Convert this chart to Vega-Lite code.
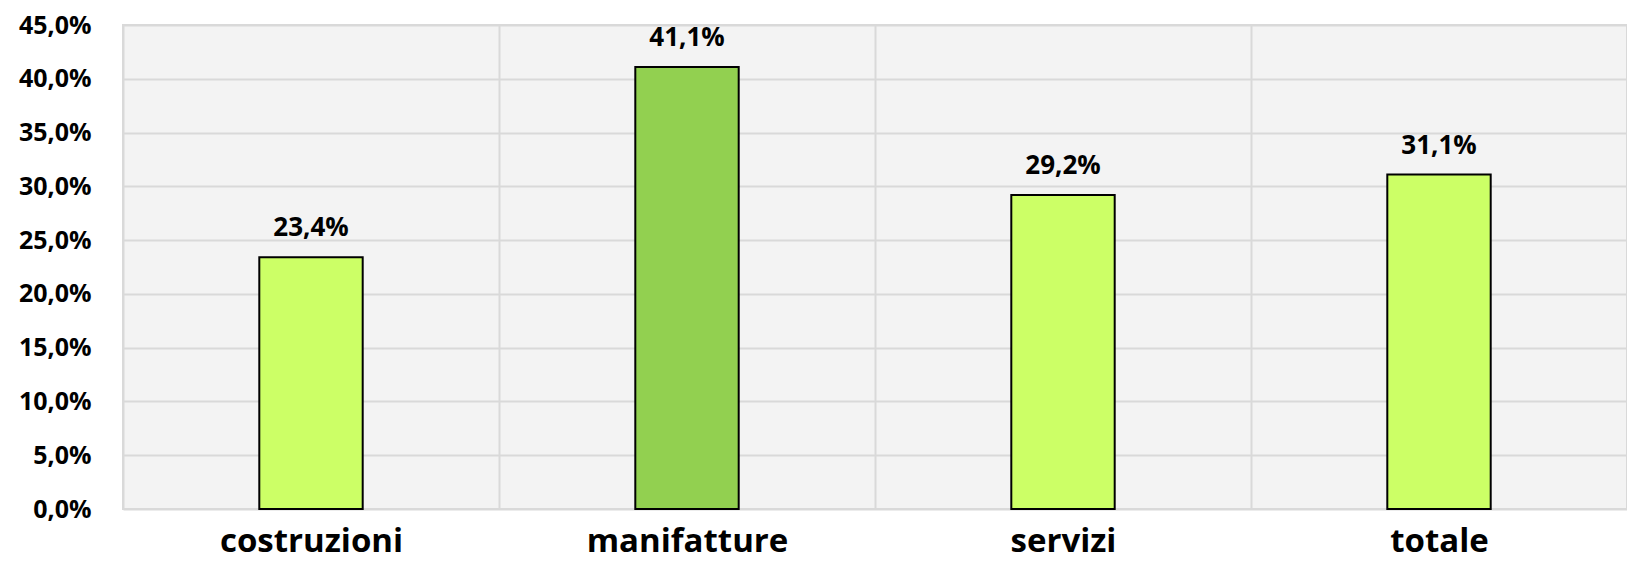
{
  "$schema": "https://vega.github.io/schema/vega-lite/v6.json",
  "autosize": "none",
  "width": 1504,
  "height": 484,
  "padding": {"left": 123, "top": 25, "right": 0, "bottom": 74},
  "background": "white",
  "config": {
    "locale": {"number": {"decimal": ",", "thousands": ".", "grouping": [3], "currency": ["€", ""]}},
    "view": {"fill": "#f3f3f3", "stroke": "#d9d9d9", "strokeWidth": 2},
    "font": "Open Sans"
  },
  "data": {
    "values": [
      {"settore": "costruzioni", "valore": 0.234, "gruppo": "a"},
      {"settore": "manifatture", "valore": 0.411, "gruppo": "b"},
      {"settore": "servizi", "valore": 0.292, "gruppo": "a"},
      {"settore": "totale", "valore": 0.311, "gruppo": "a"}
    ]
  },
  "encoding": {
    "x": {
      "field": "settore",
      "type": "nominal",
      "sort": null,
      "scale": {"paddingInner": 0, "paddingOuter": 0},
      "axis": {
        "title": null,
        "labelAngle": 0,
        "labelFont": "Open Sans",
        "labelFontWeight": "bold",
        "labelFontSize": 33,
        "labelLimit": 0,
        "labelColor": "#000000",
        "labelPadding": 16,
        "ticks": false,
        "domain": false,
        "grid": true,
        "tickBand": "extent",
        "gridColor": "#d9d9d9",
        "gridWidth": 2
      }
    },
    "y": {
      "field": "valore",
      "type": "quantitative",
      "scale": {"domain": [0, 0.45], "nice": false},
      "axis": {
        "title": null,
        "format": ".1%",
        "values": [0, 0.05, 0.1, 0.15, 0.2, 0.25, 0.3, 0.35, 0.4, 0.45],
        "labelFont": "Open Sans",
        "labelFontWeight": "bold",
        "labelFontSize": 25,
        "labelLimit": 0,
        "labelColor": "#000000",
        "labelPadding": 32,
        "ticks": false,
        "domain": false,
        "gridColor": "#d9d9d9",
        "gridWidth": 2
      }
    }
  },
  "layer": [
    {
      "mark": {"type": "bar", "stroke": "#000000", "strokeWidth": 2, "width": {"band": 0.275}},
      "encoding": {
        "color": {
          "field": "gruppo",
          "type": "nominal",
          "scale": {"domain": ["a", "b"], "range": ["#ccff66", "#92d050"]},
          "legend": null
        }
      }
    },
    {
      "mark": {"type": "text", "baseline": "alphabetic", "dy": -21, "font": "Open Sans", "fontWeight": "bold", "fontSize": 26, "color": "#000000"},
      "encoding": {
        "text": {"field": "valore", "type": "quantitative", "format": ".1%"}
      }
    }
  ]
}
